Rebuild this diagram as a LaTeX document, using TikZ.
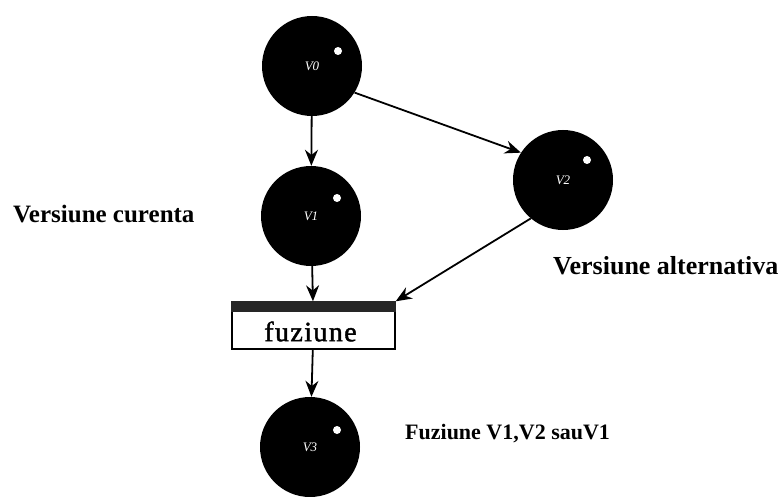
\documentclass[tikz,border=0pt]{standalone}
\usepackage{fontspec}
\setmainfont{Liberation Serif}
\usetikzlibrary{arrows.meta,calc}
\begin{document}
\begin{tikzpicture}[x=1pt,y=-1pt,
  ver/.style={circle,fill=black,minimum size=100pt,inner sep=0pt,text=white,
    font=\fontsize{13}{13}\selectfont\itshape},
  lbl/.style={anchor=west,inner sep=0pt,font=\fontsize{25}{25}\selectfont\bfseries},
  arr/.style={line width=1.8pt,-{Stealth[length=16pt,width=13pt]}},
  shine/.style={fill=white}]
\useasboundingbox (0,0) rectangle (778,497);

% version nodes
\node[ver] (v0) at (312,66) {V0};
\node[ver] (v1) at (311,216) {V1};
\node[ver] (v2) at (563,180) {V2};
\node[ver] (v3) at (310,447) {V3};
\foreach \v/\dx/\dy in {v0/26/-15, v1/26/-18, v2/24/-20, v3/27/-17}
  \fill[shine] ($(\v.center)+(\dx,\dy)$) circle (4pt);

% merge box with its dark top strip
\node[draw,line width=1.4pt,minimum width=163pt,minimum height=47pt,inner sep=0pt]
  (fz) at (313.5,325.5) {};
\fill[black!85] (fz.north west) rectangle ($(fz.north east)+(0,11)$);
\node[inner sep=0pt,font=\fontsize{28}{28}\selectfont\addfontfeatures{LetterSpace=5,FakeBold=1.5}]
  (fzt) at ($(fz.center)+(-3,6)$) {fuziune};

% labels
\node[lbl] (lcur) at (13,214) {Versiune curenta};
\node[lbl,font=\fontsize{26}{26}\selectfont\bfseries] (lalt) at (553,266) {Versiune alternativa};
\node[lbl,font=\fontsize{22}{22}\selectfont\bfseries] (lfuz) at (405,434) {Fuziune V1,V2 sauV1};

% connectors
\draw[arr] (v0) -- (v1);
\draw[arr] (v0.-32) -- (v2.147);
\draw[arr] (v1) -- (fz);
\draw[arr] (v2.230) -- (fz.north east);
\draw[arr] (fz) -- (v3);
\end{tikzpicture}
\end{document}
